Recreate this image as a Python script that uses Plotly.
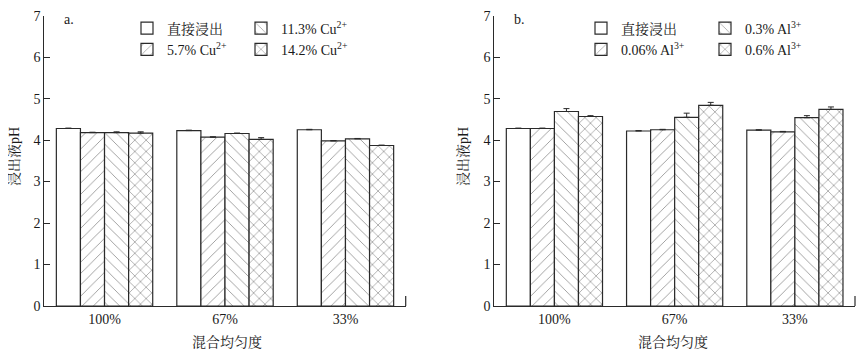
import plotly.graph_objects as go

categories = ["100%", "67%", "33%"]

# Panel a: Cu2+
a_names = ["直接浸出", "5.7% Cu<sup>2+</sup>", "11.3% Cu<sup>2+</sup>", "14.2% Cu<sup>2+</sup>"]
a_direct = [4.28, 4.23, 4.25]
a_cu57 = [4.18, 4.07, 3.98]
a_cu113 = [4.18, 4.16, 4.03]
a_cu142 = [4.17, 4.02, 3.87]
a_err_direct = [0.01, 0.01, 0.01]
a_err_cu57 = [0.01, 0.01, 0.01]
a_err_cu113 = [0.02, 0.01, 0.01]
a_err_cu142 = [0.03, 0.04, 0.01]

# Panel b: Al3+
b_names = ["直接浸出", "0.06% Al<sup>3+</sup>", "0.3% Al<sup>3+</sup>", "0.6% Al<sup>3+</sup>"]
b_direct = [4.28, 4.22, 4.24]
b_al006 = [4.28, 4.25, 4.20]
b_al03 = [4.69, 4.55, 4.54]
b_al06 = [4.57, 4.84, 4.74]
b_err_direct = [0.01, 0.01, 0.01]
b_err_al006 = [0.01, 0.01, 0.01]
b_err_al03 = [0.07, 0.10, 0.05]
b_err_al06 = [0.02, 0.07, 0.06]

y_ticks = [0, 1, 2, 3, 4, 5, 6, 7]

FONT = "Liberation Serif, Times New Roman, Noto Serif CJK SC, Noto Sans CJK SC, serif"
EDGE = "#2a2a2a"
TXT = "#1a1a1a"
shapes_pat = ["", "/", "\\", "x"]
pat_size = [8, 8, 8, 8]
pat_solid = [0.1, 0.1, 0.1, 0.16]

# page body has an 8px margin; work in reference pixel coords minus that offset
OFF = 8
W, H = 866 - OFF, 363 - OFF


def px(x):
    return (x - OFF) / W


def py(y):
    return 1 - (y - OFF) / H


xdomA = [px(44.3), px(405.7)]
xdomB = [px(494.3), px(855)]
ydom = [py(306), py(15.7)]

fig = go.Figure()

panelA = list(zip(a_names, [a_direct, a_cu57, a_cu113, a_cu142],
                  [a_err_direct, a_err_cu57, a_err_cu113, a_err_cu142]))
panelB = list(zip(b_names, [b_direct, b_al006, b_al03, b_al06],
                  [b_err_direct, b_err_al006, b_err_al03, b_err_al06]))

legA = ["legend", "legend", "legend2", "legend2"]
legB = ["legend3", "legend3", "legend4", "legend4"]


def bar(nm, vals, err, i, xa, ya, leg):
    return go.Bar(
        x=categories, y=vals, name=nm, xaxis=xa, yaxis=ya, legend=leg,
        marker=dict(color="white", line=dict(color=EDGE, width=1.2),
                    pattern=dict(shape=shapes_pat[i], fgcolor="#1a1a1a", bgcolor="white",
                                 size=pat_size[i], solidity=pat_solid[i])),
        error_y=dict(type="data", array=err, arrayminus=[0] * len(err), symmetric=False,
                     color=EDGE, thickness=1, width=3),
    )


for i, (nm, vals, err) in enumerate(panelA):
    fig.add_trace(bar(nm, vals, err, i, "x", "y", legA[i]))
for i, (nm, vals, err) in enumerate(panelB):
    fig.add_trace(bar(nm, vals, err, i, "x2", "y2", legB[i]))

xcommon = dict(type="category", showline=True, linecolor=EDGE, linewidth=1.2,
               ticks="", showgrid=False, zeroline=False, automargin=False,
               tickfont=dict(family=FONT, size=14, color=TXT), range=[-0.5, 2.5])
ycommon = dict(range=[0, 7], tickvals=y_ticks, showline=True, linecolor=EDGE, linewidth=1.2,
               ticks="inside", ticklen=6, tickcolor=EDGE, tickwidth=1.2,
               showgrid=False, zeroline=False, automargin=False,
               tickfont=dict(family=FONT, size=14, color=TXT))

fig.update_layout(
    width=W, height=H,
    margin=dict(l=0, r=0, t=0, b=0),
    paper_bgcolor="white", plot_bgcolor="white",
    barmode="group", bargap=0.2, bargroupgap=0,
    font=dict(family=FONT, size=14, color=TXT),
    xaxis=dict(domain=xdomA, anchor="y", **xcommon),
    yaxis=dict(domain=ydom, anchor="x", **ycommon),
    xaxis2=dict(domain=xdomB, anchor="y2", **xcommon),
    yaxis2=dict(domain=ydom, anchor="x2", **ycommon),
)

legbase = dict(orientation="v", bgcolor="rgba(0,0,0,0)", borderwidth=0,
               font=dict(family=FONT, size=14, color=TXT),
               xanchor="left", yanchor="top", tracegroupgap=0, itemwidth=30)
TXTOFF = 41  # legend text offset from legend left edge
ytop = py(28.5 - 16)
fig.update_layout(
    legend=dict(x=px(168 - TXTOFF), y=ytop, **legbase),
    legend2=dict(x=px(282 - TXTOFF), y=ytop, **legbase),
    legend3=dict(x=px(622 - TXTOFF), y=ytop, **legbase),
    legend4=dict(x=px(746 - TXTOFF), y=ytop, **legbase),
)

annos = [
    dict(text="a.", x=px(62), y=py(20), xanchor="left", yanchor="middle"),
    dict(text="b.", x=px(512), y=py(20), xanchor="left", yanchor="middle"),
    dict(text="混合均匀度", x=px(227), y=py(342), xanchor="center", yanchor="middle"),
    dict(text="混合均匀度", x=px(673), y=py(342), xanchor="center", yanchor="middle"),
    dict(text="浸出液pH", x=px(14), y=py(157), xanchor="center", yanchor="middle", textangle=-90),
    dict(text="浸出液pH", x=px(463), y=py(157), xanchor="center", yanchor="middle", textangle=-90),
]
for a in annos:
    fig.add_annotation(xref="paper", yref="paper", showarrow=False,
                       font=dict(family=FONT, size=14, color=TXT), **a)

for xr, yr in [("x domain", "y domain"), ("x2 domain", "y2 domain")]:
    fig.add_shape(type="line", xref=xr, yref=yr, x0=1, x1=1, y0=0, y1=10 / 290,
                  line=dict(color=EDGE, width=1.2))

fig.write_html("out.html")
